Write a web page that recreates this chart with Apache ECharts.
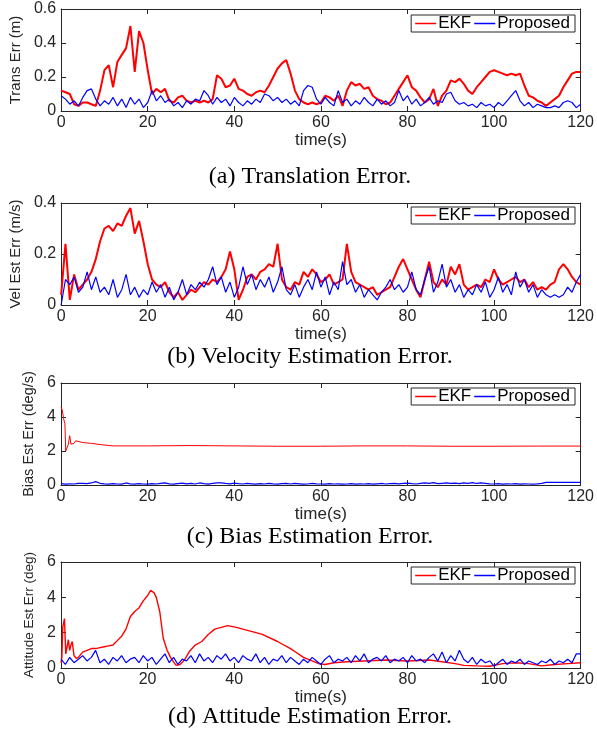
<!DOCTYPE html>
<html>
<head>
<meta charset="utf-8">
<script src="https://cdn.jsdelivr.net/npm/echarts@6/dist/echarts.min.js"></script>
<style>
  html, body { margin: 0; padding: 0; background: #fff; }
  #chart { width: 597px; height: 734px; }
</style>
</head>
<body>
<div id="chart"></div>
<script>
// time axis, one sample per second
const seconds = Array.from({length: 121}, (_, i) => i);

// (a) translation error (m)
const transEkf = [
  0.12, 0.11, 0.10, 0.04, 0.03, 0.05, 0.05, 0.04, 0.03, 0.12,
  0.24, 0.27, 0.14, 0.29, 0.33, 0.37, 0.50, 0.23, 0.47, 0.40,
  0.24, 0.10, 0.13, 0.11, 0.13, 0.06, 0.05, 0.08, 0.09, 0.06,
  0.05, 0.06, 0.05, 0.06, 0.05, 0.07, 0.21, 0.19, 0.14, 0.15,
  0.19, 0.13, 0.12, 0.10, 0.09, 0.11, 0.12, 0.11, 0.15, 0.20,
  0.25, 0.28, 0.30, 0.22, 0.12, 0.07, 0.05, 0.04, 0.05, 0.04,
  0.05, 0.09, 0.08, 0.06, 0.09, 0.03, 0.12, 0.17, 0.15, 0.16,
  0.13, 0.14, 0.09, 0.07, 0.06, 0.04, 0.05, 0.09, 0.13, 0.17,
  0.21, 0.14, 0.12, 0.08, 0.05, 0.07, 0.13, 0.03, 0.09, 0.12,
  0.18, 0.17, 0.19, 0.16, 0.12, 0.10, 0.14, 0.17, 0.20, 0.23,
  0.24, 0.23, 0.22, 0.21, 0.22, 0.21, 0.22, 0.15, 0.09, 0.08,
  0.06, 0.05, 0.03, 0.05, 0.07, 0.09, 0.14, 0.18, 0.22, 0.23,
  0.23
];
const transProp = [
  0.09, 0.07, 0.04, 0.06, 0.03, 0.08, 0.12, 0.13, 0.07, 0.03,
  0.06, 0.04, 0.08, 0.03, 0.07, 0.02, 0.08, 0.04, 0.07, 0.02,
  0.05, 0.12, 0.06, 0.09, 0.05, 0.07, 0.03, 0.05, 0.02, 0.06,
  0.04, 0.07, 0.06, 0.12, 0.09, 0.04, 0.08, 0.05, 0.07, 0.03,
  0.08, 0.05, 0.03, 0.06, 0.04, 0.07, 0.05, 0.10, 0.09, 0.06,
  0.08, 0.05, 0.07, 0.04, 0.06, 0.03, 0.12, 0.15, 0.14, 0.07,
  0.04, 0.08, 0.05, 0.03, 0.12, 0.05, 0.07, 0.03, 0.06, 0.04,
  0.08, 0.05, 0.03, 0.07, 0.04, 0.06, 0.03, 0.05, 0.12, 0.06,
  0.09, 0.04, 0.07, 0.03, 0.05, 0.08, 0.04, 0.06, 0.05, 0.10,
  0.11, 0.06, 0.04, 0.05, 0.03, 0.04, 0.02, 0.05, 0.03, 0.04,
  0.02, 0.05, 0.03, 0.06, 0.09, 0.12, 0.06, 0.03, 0.05, 0.02,
  0.04, 0.03, 0.02, 0.02, 0.03, 0.02, 0.05, 0.06, 0.05, 0.02,
  0.04
];

// (b) velocity estimation error (m/s)
const velEkf = [
  0.04, 0.24, 0.02, 0.12, 0.06, 0.08, 0.10, 0.13, 0.18, 0.25,
  0.30, 0.31, 0.29, 0.32, 0.31, 0.35, 0.38, 0.28, 0.33, 0.25,
  0.16, 0.10, 0.08, 0.07, 0.09, 0.05, 0.03, 0.05, 0.02, 0.04,
  0.06, 0.05, 0.07, 0.09, 0.08, 0.10, 0.09, 0.11, 0.14, 0.21,
  0.14, 0.02, 0.06, 0.11, 0.12, 0.10, 0.13, 0.14, 0.16, 0.15,
  0.24, 0.10, 0.07, 0.06, 0.09, 0.08, 0.13, 0.11, 0.14, 0.12,
  0.09, 0.10, 0.12, 0.08, 0.09, 0.10, 0.24, 0.13, 0.09, 0.08,
  0.07, 0.06, 0.07, 0.04, 0.05, 0.06, 0.07, 0.11, 0.15, 0.18,
  0.14, 0.10, 0.06, 0.03, 0.10, 0.17, 0.09, 0.07, 0.10, 0.08,
  0.15, 0.12, 0.16, 0.08, 0.06, 0.07, 0.08, 0.07, 0.10, 0.09,
  0.14, 0.10, 0.08, 0.09, 0.10, 0.11, 0.09, 0.10, 0.07, 0.09,
  0.06, 0.07, 0.06, 0.08, 0.09, 0.14, 0.16, 0.14, 0.11, 0.09,
  0.08
];
const velProp = [
  0.00, 0.10, 0.08, 0.11, 0.05, 0.07, 0.13, 0.06, 0.11, 0.05,
  0.07, 0.04, 0.10, 0.03, 0.06, 0.12, 0.04, 0.07, 0.03, 0.06,
  0.04, 0.09, 0.05, 0.08, 0.03, 0.07, 0.02, 0.05, 0.10, 0.04,
  0.08, 0.06, 0.09, 0.07, 0.10, 0.15, 0.08, 0.11, 0.05, 0.09,
  0.03, 0.07, 0.15, 0.08, 0.12, 0.06, 0.10, 0.07, 0.11, 0.05,
  0.09, 0.15, 0.06, 0.04, 0.08, 0.03, 0.07, 0.10, 0.06, 0.13,
  0.07, 0.11, 0.04, 0.09, 0.06, 0.17, 0.08, 0.10, 0.05, 0.08,
  0.03, 0.06, 0.04, 0.02, 0.05, 0.07, 0.10, 0.06, 0.08, 0.05,
  0.07, 0.13, 0.06, 0.04, 0.10, 0.15, 0.05, 0.09, 0.16, 0.07,
  0.10, 0.05, 0.08, 0.03, 0.06, 0.04, 0.08, 0.05, 0.09, 0.03,
  0.06, 0.11, 0.05, 0.08, 0.04, 0.13, 0.07, 0.10, 0.05, 0.08,
  0.03, 0.06, 0.04, 0.03, 0.04, 0.03, 0.04, 0.07, 0.05, 0.09,
  0.12
];

// (c) bias estimation error (deg/s), EKF given as [time, value]
const biasEkf = [
  [0, 4.6], [0.3, 4.4], [0.6, 3.9], [0.9, 3.6], [1.1, 2.0], [1.4, 2.1],
  [1.7, 2.4], [2.0, 2.9], [2.3, 2.4], [2.6, 2.5], [3.0, 2.45], [3.4, 2.6],
  [3.8, 2.55], [5, 2.5], [7, 2.45], [9, 2.38], [12, 2.3], [20, 2.3],
  [30, 2.32], [40, 2.3], [50, 2.28], [60, 2.28], [70, 2.3], [80, 2.3],
  [90, 2.28], [100, 2.28], [110, 2.29], [120, 2.29]
];
const biasProp = [
  0.08, 0.05, 0.07, 0.06, 0.09, 0.10, 0.08, 0.12, 0.20, 0.10,
  0.07, 0.05, 0.08, 0.06, 0.05, 0.12, 0.07, 0.05, 0.08, 0.06,
  0.05, 0.08, 0.06, 0.09, 0.12, 0.07, 0.05, 0.08, 0.11, 0.07,
  0.09, 0.06, 0.12, 0.08, 0.05, 0.10, 0.13, 0.12, 0.09, 0.07,
  0.11, 0.08, 0.06, 0.09, 0.07, 0.05, 0.08, 0.06, 0.10, 0.07,
  0.05, 0.08, 0.10, 0.06, 0.09, 0.07, 0.05, 0.06, 0.09, 0.07,
  0.06, 0.05, 0.08, 0.06, 0.07, 0.05, 0.06, 0.08, 0.05, 0.07,
  0.06, 0.08, 0.05, 0.07, 0.09, 0.06, 0.08, 0.10, 0.07, 0.09,
  0.11, 0.08, 0.06, 0.09, 0.12, 0.10, 0.14, 0.08, 0.10, 0.12,
  0.09, 0.11, 0.08, 0.13, 0.10, 0.14, 0.09, 0.12, 0.10, 0.07,
  0.06, 0.08, 0.05, 0.07, 0.06, 0.08, 0.05, 0.07, 0.06, 0.05,
  0.07, 0.10, 0.15, 0.15, 0.15, 0.15, 0.15, 0.15, 0.16, 0.16,
  0.16
];

// (d) attitude estimation error (deg), EKF given as [time, value]
const attEkf = [
  [0, 0.3], [0.2, 0.6], [0.4, 2.3], [0.6, 2.4], [0.8, 2.8], [1.1, 0.8],
  [1.4, 1.2], [1.7, 1.6], [2.0, 1.0], [2.3, 1.3], [2.6, 1.5], [3.0, 0.7],
  [3.5, 0.55], [4, 0.6], [5, 0.9], [6, 1.0], [7, 1.1], [8, 1.1],
  [9, 1.15], [10, 1.2], [11, 1.25], [12, 1.3], [13, 1.55], [14, 1.8],
  [15, 2.2], [16, 2.9], [17, 3.2], [18, 3.4], [19, 3.8], [20, 4.1],
  [20.7, 4.4], [21.5, 4.25], [22, 4.0], [22.8, 3.2], [23.6, 1.7], [24.5, 1.0],
  [25.5, 0.5], [26.6, 0.15], [27.5, 0.2], [28.5, 0.45], [29.7, 0.95], [31, 1.3],
  [32.5, 1.5], [34, 1.9], [35.5, 2.2], [37, 2.3], [38.5, 2.4], [40.5, 2.3],
  [43.5, 2.1], [46.5, 1.9], [50, 1.5], [53, 1.1], [54.5, 0.85], [56, 0.6],
  [58, 0.4], [59.5, 0.25], [61, 0.2], [63, 0.3], [66, 0.35], [70, 0.4],
  [75, 0.45], [80, 0.4], [85, 0.45], [88, 0.35], [91, 0.25], [93, 0.15],
  [96, 0.12], [99, 0.1], [102, 0.25], [105, 0.3], [108, 0.25], [111, 0.12],
  [114, 0.2], [117, 0.25], [120, 0.3]
];
const attProp = [
  0.5, 0.2, 0.6, 0.3, 0.5, 0.7, 0.4, 0.6, 1.0, 0.3,
  0.5, 0.2, 0.6, 0.4, 0.7, 0.3, 0.5, 0.6, 0.3, 0.7,
  0.4, 0.6, 0.2, 0.5, 0.8, 0.3, 0.6, 0.2, 0.5, 0.4,
  0.7, 0.3, 0.8, 0.4, 0.6, 0.3, 0.7, 0.5, 0.8, 0.4,
  0.6, 0.3, 0.7, 0.5, 0.4, 0.8, 0.3, 0.6, 0.2, 0.5,
  0.4, 0.7, 0.3, 0.6, 0.4, 0.2, 0.5, 0.3, 0.6, 0.4,
  0.2, 0.5, 0.7, 0.3, 0.5, 0.4, 0.6, 0.3, 0.7, 0.4,
  0.8, 0.3, 0.5, 0.6, 0.4, 0.7, 0.3, 0.5, 0.4, 0.6,
  0.3, 0.7, 0.4, 0.5, 0.3, 0.6, 0.8, 0.4, 0.9, 0.3,
  0.7, 0.4, 1.0, 0.5, 0.3, 0.6, 0.2, 0.5, 0.3, 0.4,
  0.1, 0.3, 0.5, 0.2, 0.4, 0.3, 0.5, 0.2, 0.4, 0.3,
  0.2, 0.4, 0.3, 0.5, 0.2, 0.4, 0.3, 0.5, 0.3, 0.8,
  0.8
];

const bySecond = arr => seconds.map((t, i) => [t, arr[i]]);

// layout of the four panels
const panels = [
  {top: 9, height: 102, max: 0.6, step: 0.2, yName: 'Trans Err (m)', yGap: 35, yNameSize: 15,
   ekf: bySecond(transEkf), prop: bySecond(transProp), ekfWidth: 2, legendTop: 15, caption: '(a) Translation Error.', capY: 177, xNameGap: 20},
  {top: 203, height: 102, max: 0.4, step: 0.2, yName: 'Vel Est Err (m/s)', yGap: 35, yNameSize: 15,
   ekf: bySecond(velEkf), prop: bySecond(velProp), ekfWidth: 2, legendTop: 207, caption: '(b) Velocity Estimation Error.', capY: 357, xNameGap: 18},
  {top: 383, height: 102, max: 6, step: 2, yName: 'Bias Est Err (deg/s)', yGap: 21, yNameSize: 14.5,
   ekf: biasEkf, prop: bySecond(biasProp), ekfWidth: 1, legendTop: 388, caption: '(c) Bias Estimation Error.', capY: 537, xNameGap: 20},
  {top: 562, height: 106, max: 6, step: 2, yName: 'Attitude Est Err (deg)', yGap: 20, yNameSize: 13.5,
   ekf: attEkf, prop: bySecond(attProp), ekfWidth: 1.4, legendTop: 567, caption: '(d) Attitude Estimation Error.', capY: 717, xNameGap: 17}
];

const axisColor = '#262626';
const sans = 'Liberation Sans';

const grid = [], xAxis = [], yAxis = [], series = [], legend = [], graphic = [];

panels.forEach((p, i) => {
  grid.push({left: 61, width: 520, top: p.top, height: p.height});

  [false, true].forEach(isTop => {
    xAxis.push({
      type: 'value', gridIndex: i, position: isTop ? 'top' : 'bottom',
      min: 0, max: 120, interval: 20,
      axisLine: {show: true, onZero: false, lineStyle: {color: axisColor, width: 1}},
      axisTick: {show: true, inside: true, length: 5, lineStyle: {color: axisColor}},
      axisLabel: {show: !isTop, margin: 4, color: axisColor, fontSize: 16, fontFamily: sans},
      splitLine: {show: false},
      name: isTop ? '' : 'time(s)', nameLocation: 'middle', nameGap: p.xNameGap,
      nameTextStyle: {color: axisColor, fontSize: 17, fontFamily: sans}
    });
  });

  [false, true].forEach(isRight => {
    yAxis.push({
      type: 'value', gridIndex: i, position: isRight ? 'right' : 'left',
      min: 0, max: p.max, interval: p.step,
      axisLine: {show: true, onZero: false, lineStyle: {color: axisColor, width: 1}},
      axisTick: {show: true, inside: true, length: 5, lineStyle: {color: axisColor}},
      axisLabel: {show: !isRight, margin: 5, color: axisColor, fontSize: 16, fontFamily: sans},
      splitLine: {show: false},
      name: isRight ? '' : p.yName, nameLocation: 'middle', nameGap: p.yGap, nameRotate: 90,
      nameTextStyle: {color: axisColor, fontSize: p.yNameSize, fontFamily: sans}
    });
  });

  series.push({
    name: 'EKF', type: 'line', xAxisIndex: 2 * i, yAxisIndex: 2 * i,
    data: p.ekf, showSymbol: false, color: '#ff0000',
    lineStyle: {width: p.ekfWidth}, z: 2
  });
  series.push({
    name: 'Proposed', type: 'line', xAxisIndex: 2 * i, yAxisIndex: 2 * i,
    data: p.prop, showSymbol: false, color: '#0000ff',
    lineStyle: {width: 1.2}, z: 3
  });

  legend.push({
    data: ['EKF', 'Proposed'], right: 22, top: p.legendTop,
    orient: 'horizontal', icon: 'rect', itemWidth: 21, itemHeight: 1.5, itemGap: 3,
    padding: [0, 5, 0, 4], borderColor: axisColor, borderWidth: 1, backgroundColor: '#fff',
    textStyle: {color: '#000', fontSize: 17, fontFamily: sans, padding: [0, 0, 0, -3]},
    selectedMode: false
  });

  graphic.push({
    type: 'text', x: 310, y: p.capY,
    style: {text: p.caption, font: '24px "Liberation Serif"', fill: '#000', align: 'center', verticalAlign: 'middle'}
  });
});

const chart = echarts.init(document.getElementById('chart'));
chart.setOption({
  animation: false,
  backgroundColor: '#fff',
  grid, xAxis, yAxis, series, legend, graphic
});
</script>
</body>
</html>
